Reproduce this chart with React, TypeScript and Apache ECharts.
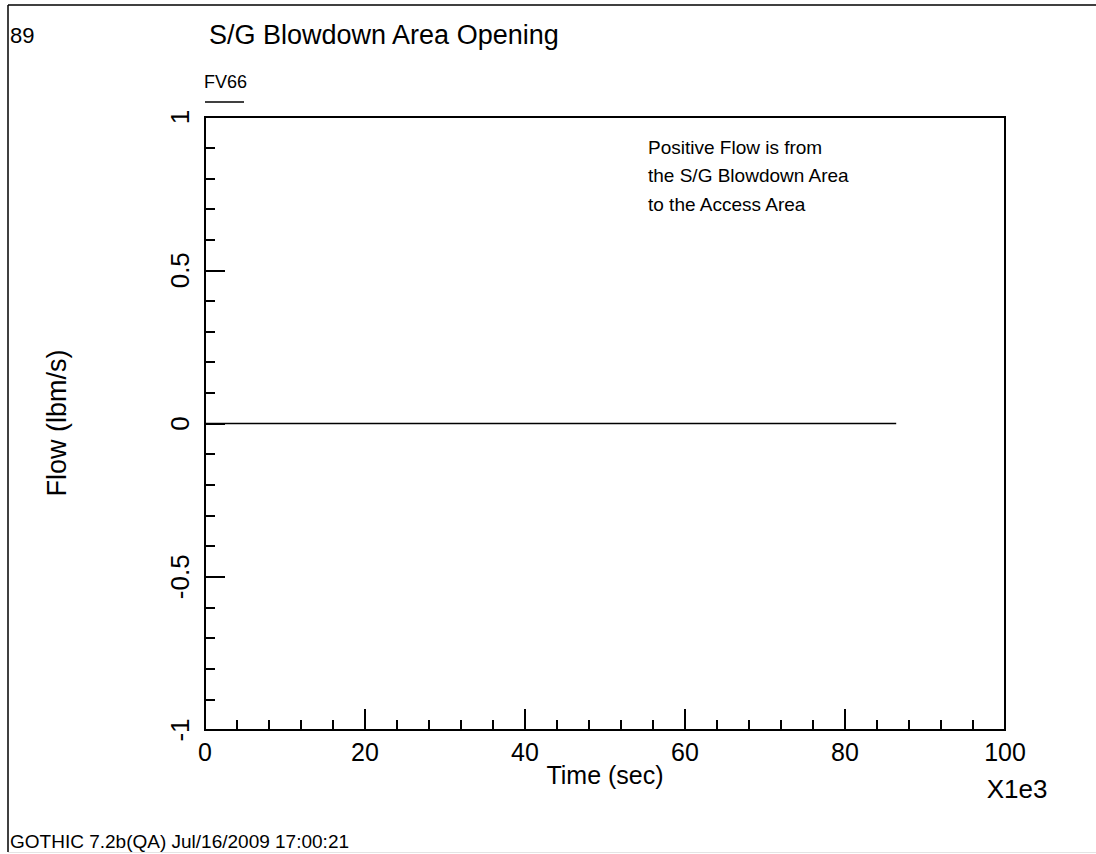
import React, { useEffect, useRef } from "react";
import * as echarts from "echarts";

// Time in units of 1e3 seconds, flow in lbm/s
const timeK = [0, 86.4];
const flow = [0, 0];

const xTicks = [0, 20, 40, 60, 80, 100];
const yTicks = [-1, -0.5, 0, 0.5, 1];

const noteLines = [
  "Positive Flow is from",
  "the S/G Blowdown Area",
  "to the Access Area",
];

const FONT = "'Liberation Sans', Arial, sans-serif";

export default function App() {
  const ref = useRef<HTMLDivElement>(null);

  useEffect(() => {
    document.body.style.margin = "0";
    if (!ref.current) return;
    const chart = echarts.init(ref.current, undefined, { renderer: "svg" });

    const seriesData = timeK.map((t, i) => [t, flow[i]]);

    const txt = (
      text: string,
      x: number,
      y: number,
      size: number,
      align: string = "left",
      extra: any = {}
    ) => ({
      type: "text",
      x,
      y,
      ...extra,
      style: {
        text,
        font: `${size}px ${FONT}`,
        fill: "#000",
        align,
        verticalAlign: "middle",
      },
    });

    chart.setOption({
      animation: false,
      backgroundColor: "#ffffff",
      textStyle: { fontFamily: FONT, color: "#000" },
      grid: {
        left: 205,
        right: 91,
        top: 117,
        bottom: 124,
        show: true,
        borderColor: "#000",
        borderWidth: 2,
        backgroundColor: "transparent",
      },
      xAxis: {
        type: "value",
        min: xTicks[0],
        max: xTicks[xTicks.length - 1],
        interval: 20,
        axisLine: { show: true, onZero: false, lineStyle: { color: "#000", width: 2 } },
        axisTick: { show: true, inside: true, length: 21, lineStyle: { color: "#000", width: 2 } },
        minorTick: { show: true, splitNumber: 5, length: 10, lineStyle: { color: "#000", width: 2 } },
        splitLine: { show: false },
        axisLabel: { fontSize: 25, color: "#000", margin: 9, fontFamily: FONT },
      },
      yAxis: {
        type: "value",
        min: yTicks[0],
        max: yTicks[yTicks.length - 1],
        interval: 0.5,
        axisLine: { show: true, onZero: false, lineStyle: { color: "#000", width: 2 } },
        axisTick: { show: true, inside: true, length: 20, lineStyle: { color: "#000", width: 2 } },
        minorTick: { show: true, splitNumber: 5, length: 10, lineStyle: { color: "#000", width: 2 } },
        splitLine: { show: false },
        axisLabel: {
          fontSize: 26,
          color: "#000",
          rotate: 90,
          margin: 12,
          fontFamily: FONT,
          formatter: (v: number) => String(Math.round(v * 10) / 10),
        },
      },
      series: [
        {
          type: "line",
          name: "FV66",
          data: seriesData,
          symbol: "none",
          lineStyle: { color: "#000", width: 1.5 },
        },
      ],
      graphic: [
        // page frame
        {
          type: "line",
          shape: { x1: 8, y1: 5, x2: 1096, y2: 5 },
          style: { stroke: "#000", lineWidth: 1.5 },
          silent: true,
        },
        {
          type: "line",
          shape: { x1: 8, y1: 5, x2: 8, y2: 852 },
          style: { stroke: "#000", lineWidth: 1.5 },
          silent: true,
        },
        {
          type: "line",
          shape: { x1: 8, y1: 852.5, x2: 1096, y2: 852.5 },
          style: { stroke: "#e4e4e4", lineWidth: 1 },
          silent: true,
        },
        txt("89", 10, 35, 22),
        txt("S/G Blowdown Area Opening", 209, 35, 27),
        txt("FV66", 204, 82, 18),
        {
          type: "line",
          shape: { x1: 205, y1: 102, x2: 244, y2: 102 },
          style: { stroke: "#000", lineWidth: 1.5 },
        },
        ...noteLines.map((t, i) => txt(t, 648, 147 + i * 28.5, 19)),
        txt("Time (sec)", 605, 775, 25, "center"),
        txt("X1e3", 1017, 789, 26, "center"),
        txt("Flow (lbm/s)", 57, 423, 27, "center", { rotation: Math.PI / 2 }),
        txt("GOTHIC 7.2b(QA) Jul/16/2009 17:00:21", 10, 841, 19),
      ],
    });

    return () => chart.dispose();
  }, []);

  return <div ref={ref} style={{ width: 1096, height: 854 }} />;
}
